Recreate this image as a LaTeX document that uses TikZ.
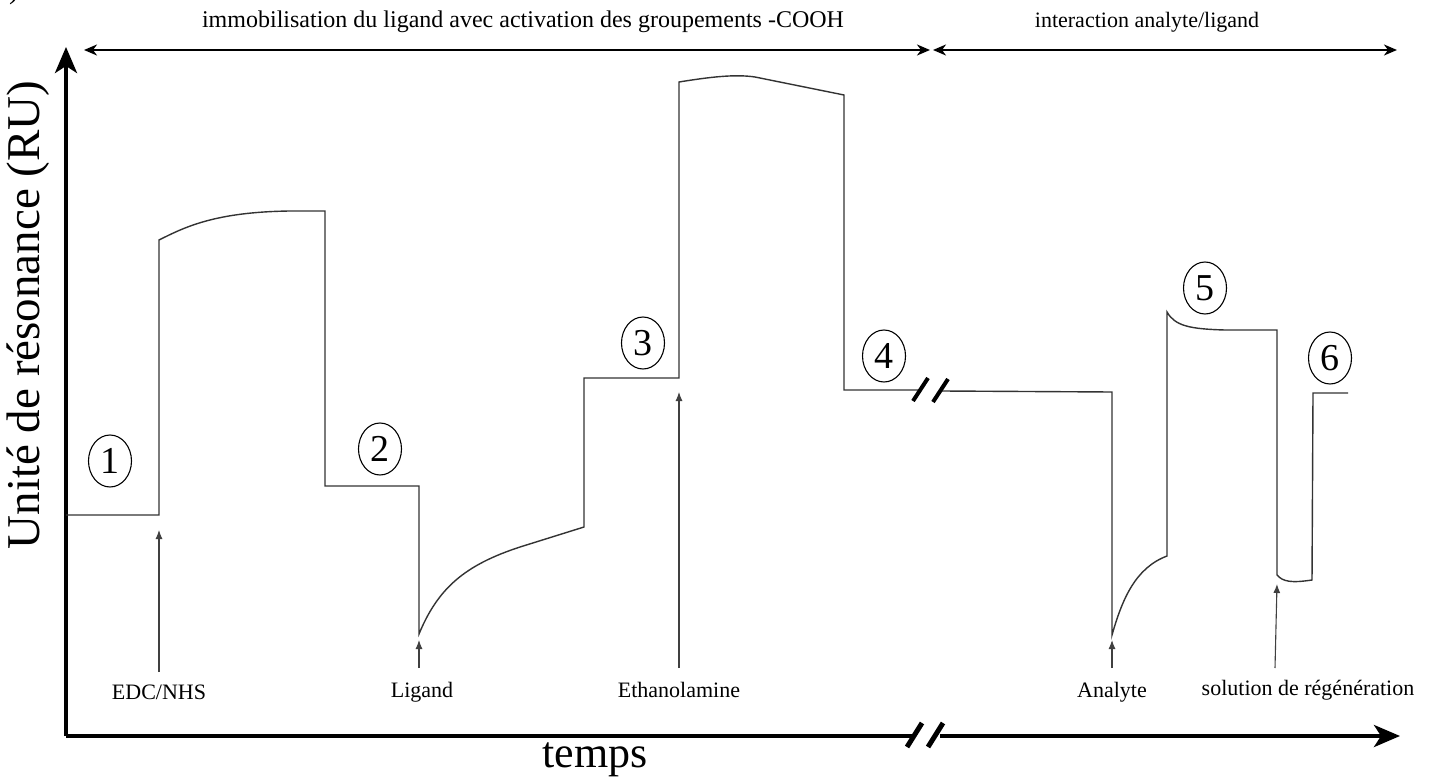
\documentclass[tikz,border=0pt]{standalone}
\usepackage{fontspec}
\setmainfont{Liberation Serif}
\usetikzlibrary{arrows.meta,shapes.geometric}
\begin{document}
\begin{tikzpicture}[x=1pt,y=-1pt,
  axis/.style={line width=4pt},
  axtip/.style={-{Stealth[length=26pt,width=22pt,inset=7pt]}},
  span/.style={line width=2pt,{Stealth[length=13pt,width=11pt,inset=4pt]}-{Stealth[length=13pt,width=11pt,inset=4pt]}},
  signal/.style={line width=1.4pt,draw=black!80,line join=miter},
  inj/.style={line width=1.1pt,draw=black!75,-{Latex[length=9pt,width=7pt]}},
  num/.style={ellipse,draw,line width=1.1pt,minimum width=43pt,minimum height=52pt,inner sep=0pt,font=\fontsize{38}{38}\selectfont},
  lab/.style={font=\fontsize{22}{24}\selectfont,inner sep=0pt},
  head/.style={font=\fontsize{24}{28}\selectfont,inner sep=0pt},
  big/.style={inner sep=0pt,font=\fontsize{47}{47}\selectfont},
  brk/.style={line width=5pt},
  brks/.style={line width=4pt},
]
\useasboundingbox (0,0) rectangle (1437,778);
\fill[white] (0,0) rectangle (1437,778);

% fragment at top-left
\node[anchor=base,font=\fontsize{30}{30}\selectfont,inner sep=0pt] (frag) at (14,-1.5) {)};

% axes
\coordinate (O) at (66,736);
\coordinate (ytip) at (66,47);
\coordinate (xb1) at (915,736);
\coordinate (xb2) at (940,736);
\coordinate (xtip) at (1400,736);
\draw[axis,axtip] (O) -- (ytip);
\draw[axis] (O) -- (xb1);
\draw[axis,axtip] (xb2) -- (xtip);
\draw[brk] (907,747) -- (922,723);
\draw[brk] (928,747) -- (943,723);

\node[big,rotate=90] (ylab) at (28,315) {Unité de résonance (RU)};
\node[big,anchor=base,font=\fontsize{44}{44}\selectfont] (xlab) at (595,767) {temps};

% phase spans
\coordinate (s1a) at (84,50);
\coordinate (s1b) at (930,50);
\coordinate (s2a) at (933,50);
\coordinate (s2b) at (1397,50);
\draw[span] (s1a) -- (s1b);
\draw[span] (s2a) -- (s2b);
\node[head] (h1) at (523,22) {immobilisation du ligand avec activation des groupements -COOH};
\node[head,font=\fontsize{22}{26}\selectfont] (h2) at (1147,22) {interaction analyte/ligand};

% sensorgram
\draw[signal] (66,515) -- (159,515) -- (159,240)
  .. controls (185,227) and (215,212) .. (290,211) -- (325,211)
  -- (325,486) -- (419,486) -- (419,634)
  .. controls (438,588) and (465,565) .. (520,547) -- (584,527)
  -- (584,378) -- (679,378) -- (679,82)
  .. controls (710,77) and (735,74) .. (755,77) -- (844,95)
  -- (844,390) -- (919,390);
\draw[signal] (942,391) -- (1112,392) -- (1112,635)
  .. controls (1122,600) and (1135,568) .. (1167,556)
  -- (1167,312) .. controls (1175,326) and (1190,329) .. (1225,330) -- (1277,330)
  -- (1277,575) .. controls (1283,582) and (1292,583) .. (1312,580)
  -- (1313,393) -- (1348,393);
\draw[brks] (913,401) -- (928,378);
\draw[brks] (933,402) -- (948,379);

% step numbers
\node[num] (n1) at (110,461) {1};
\node[num] (n2) at (380,449) {2};
\node[num] (n3) at (643,343) {3};
\node[num] (n4) at (884,356) {4};
\node[num] (n5) at (1205,288) {5};
\node[num] (n6) at (1330,358) {6};

% injections
\node[lab] (l1) at (159,692) {EDC/NHS};
\node[lab] (l2) at (422,692) {Ligand};
\node[lab] (l3) at (679,690) {Ethanolamine};
\node[lab] (l4) at (1112,692) {Analyte};
\node[lab] (l5) at (1308,690) {solution de régénération};
\coordinate (t1) at (159,672);
\coordinate (t2) at (419,668);
\coordinate (t3) at (679,668);
\coordinate (t4) at (1112,668);
\coordinate (t5) at (1275,668);
\coordinate (i1) at (159,530);
\coordinate (i2) at (419,640);
\coordinate (i3) at (679,392);
\coordinate (i4) at (1112,640);
\coordinate (i5) at (1277,584);
\draw[inj] (t1) -- (i1);
\draw[inj] (t2) -- (i2);
\draw[inj] (t3) -- (i3);
\draw[inj] (t4) -- (i4);
\draw[inj] (t5) -- (i5);
\end{tikzpicture}
\end{document}
